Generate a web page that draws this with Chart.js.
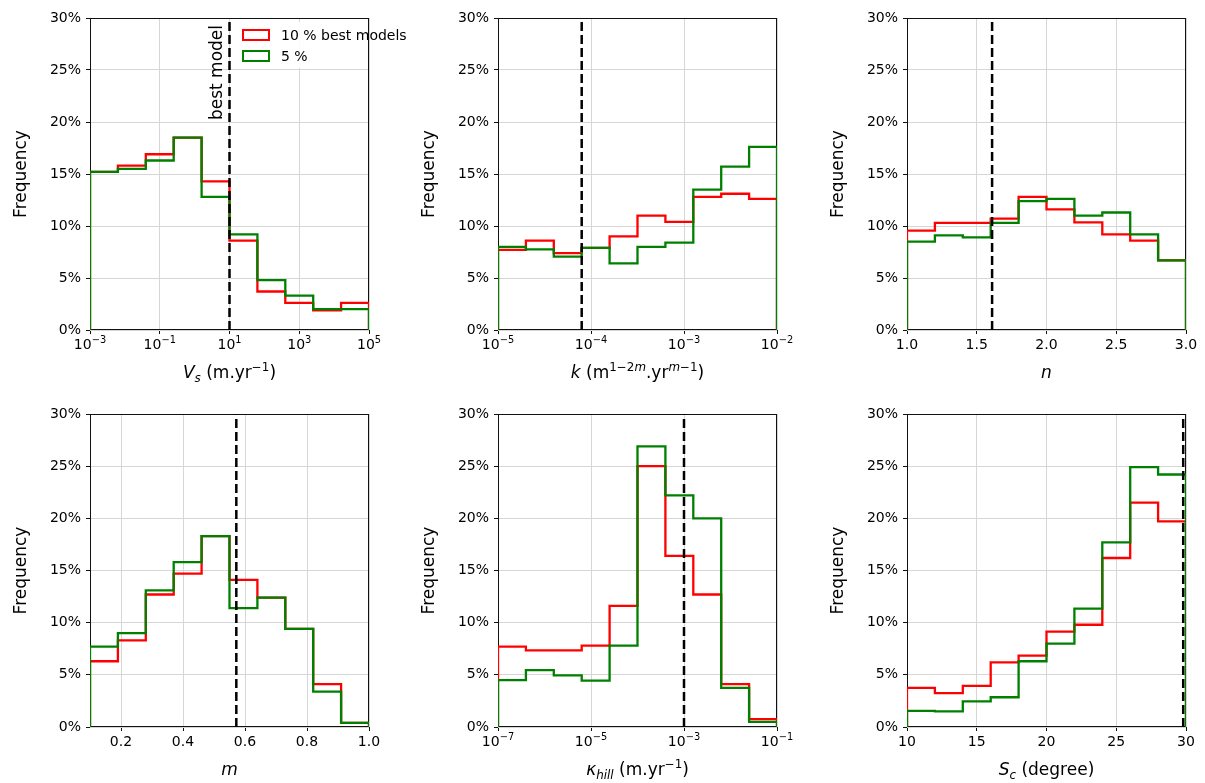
<!DOCTYPE html>
<html>
<head>
<meta charset="utf-8">
<script src="https://cdn.jsdelivr.net/npm/chart.js@4.4.0/dist/chart.umd.min.js"></script>
<style>
  body { margin: 0; background: #fff; }
  #fig { position: relative; width: 1205px; height: 783px; overflow: hidden; }
  canvas { position: absolute; }
</style>
</head>
<body>
<div id="fig">
  <canvas id="c-vs" width="408" height="392" style="left:0px;top:0px"></canvas>
  <canvas id="c-k" width="409" height="392" style="left:408px;top:0px"></canvas>
  <canvas id="c-n" width="388" height="392" style="left:817px;top:0px"></canvas>
  <canvas id="c-m" width="408" height="387" style="left:0px;top:396px"></canvas>
  <canvas id="c-kh" width="409" height="387" style="left:408px;top:396px"></canvas>
  <canvas id="c-sc" width="388" height="387" style="left:817px;top:396px"></canvas>
</div>
<script>
const FONT = '"DejaVu Sans", sans-serif';
const RED = '#ff0000';
const GREEN = '#008000';
const GRID = '#d6d6d6';

// frequency axis (percent), shared
const freqTicks = [0, 5, 10, 15, 20, 25, 30];

// V_s, log10(m/yr)
const vsEdges = [-3, -2.2, -1.4, -0.6, 0.2, 1.0, 1.8, 2.6, 3.4, 4.2, 5.0];
const vsRed = [15.2, 15.8, 16.9, 18.5, 14.3, 8.6, 3.7, 2.6, 1.9, 2.6];
const vsGreen = [15.2, 15.5, 16.3, 18.5, 12.8, 9.2, 4.8, 3.3, 2.0, 2.0];
const vsTicks = [-3, -1, 1, 3, 5];
const vsBest = 1.0;

// k, log10
const kEdges = [-5, -4.7, -4.4, -4.1, -3.8, -3.5, -3.2, -2.9, -2.6, -2.3, -2];
const kRed = [7.7, 8.6, 7.4, 7.9, 9.0, 11.0, 10.4, 12.8, 13.1, 12.6];
const kGreen = [8.0, 7.75, 7.05, 7.9, 6.4, 8.0, 8.4, 13.5, 15.7, 17.6];
const kTicks = [-5, -4, -3, -2];
const kBest = -4.1;

// n
const nEdges = [1.0, 1.2, 1.4, 1.6, 1.8, 2.0, 2.2, 2.4, 2.6, 2.8, 3.0];
const nRed = [9.55, 10.3, 10.3, 10.7, 12.8, 11.6, 10.35, 9.2, 8.6, 6.7];
const nGreen = [8.5, 9.1, 8.9, 10.3, 12.4, 12.6, 11.0, 11.3, 9.2, 6.7];
const nTicks = [1.0, 1.5, 2.0, 2.5, 3.0];
const nBest = 1.61;

// m
const mEdges = [0.1, 0.19, 0.28, 0.37, 0.46, 0.55, 0.64, 0.73, 0.82, 0.91, 1.0];
const mRed = [6.3, 8.3, 12.7, 14.7, 18.3, 14.1, 12.4, 9.4, 4.1, 0.4];
const mGreen = [7.7, 9.0, 13.1, 15.8, 18.3, 11.4, 12.4, 9.4, 3.4, 0.4];
const mTicks = [0.2, 0.4, 0.6, 0.8, 1.0];
const mBest = 0.572;

// kappa_hill, log10(m/yr)
const khEdges = [-7, -6.4, -5.8, -5.2, -4.6, -4, -3.4, -2.8, -2.2, -1.6, -1];
const khRed = [7.7, 7.35, 7.35, 7.8, 11.6, 25.0, 16.4, 12.7, 4.1, 0.75];
const khGreen = [4.5, 5.45, 4.95, 4.45, 7.8, 26.9, 22.2, 20.0, 3.75, 0.5];
const khTicks = [-7, -5, -3, -1];
const khBest = -3.0;

// S_c, degree
const scEdges = [10, 12, 14, 16, 18, 20, 22, 24, 26, 28, 30];
const scRed = [3.75, 3.25, 3.95, 6.2, 6.85, 9.15, 9.8, 16.2, 21.5, 19.7];
const scGreen = [1.55, 1.5, 2.45, 2.85, 6.3, 8.0, 11.35, 17.7, 24.9, 24.2];
const scTicks = [10, 15, 20, 25, 30];
const scBest = 29.8;

const fixed1 = v => v.toFixed(1);
const plain = v => String(v);
// log axes: tick value is the exponent, drawn as 10 with a raised exponent
const pow10Parts = v => [{ t: '10' }, { t: String(v).replace('-', '\u2212'), sup: true }];

function stepPoints(edges, values) {
  const pts = [{ x: edges[0], y: 0 }];
  values.forEach((v, i) => pts.push({ x: edges[i], y: v }));
  pts.push({ x: edges[edges.length - 1], y: 0 });
  return pts;
}

// text with italics, sub- and superscripts
function drawRich(ctx, parts, cx, cy, size) {
  const fontFor = p => (p.it ? 'italic ' : '') + ((p.sub || p.sup) ? size * 0.7 : size) + 'px ' + FONT;
  const widths = parts.map(p => { ctx.font = fontFor(p); return ctx.measureText(p.t).width; });
  let x = cx - widths.reduce((a, b) => a + b, 0) / 2;
  const base = cy + size * 0.36;
  ctx.textAlign = 'left';
  ctx.textBaseline = 'alphabetic';
  parts.forEach((p, i) => {
    ctx.font = fontFor(p);
    let y = base;
    if (p.sub) y += size * 0.22;
    if (p.sup) y -= size * 0.42;
    ctx.fillText(p.t, x, y);
    x += widths[i];
  });
}

const framePlugin = {
  id: 'frame',
  beforeDatasetsDraw(chart) {
    const { ctx, chartArea: a } = chart;
    ctx.save();
    ctx.strokeStyle = '#111';
    ctx.lineWidth = 1;
    ctx.strokeRect(a.left + 0.5, a.top + 0.5, a.right - a.left - 1, a.bottom - a.top - 1);
    ctx.restore();
  }
};

const xTextPlugin = {
  id: 'xText',
  afterDraw(chart, args, opts) {
    const { ctx, chartArea: a } = chart;
    const xs = chart.scales.x;
    ctx.save();
    ctx.fillStyle = '#000';
    if (opts.logTicks) {
      opts.logTicks.forEach(v => drawRich(ctx, pow10Parts(v), xs.getPixelForValue(v), a.bottom + 14, 14));
    }
    drawRich(ctx, opts.parts, (a.left + a.right) / 2, a.bottom + 42, 17);
    ctx.restore();
  }
};

const legendPlugin = {
  id: 'boxLegend',
  afterDraw(chart, args, opts) {
    if (!opts.show) return;
    const { ctx, chartArea: a } = chart;
    const x0 = a.left + 146, y0 = a.top + 4;
    ctx.save();
    ctx.fillStyle = 'rgba(255,255,255,0.9)';
    ctx.fillRect(x0, y0, 130, 46);
    const rows = [[RED, '10 % best models'], [GREEN, '5 %']];
    rows.forEach(([col, txt], i) => {
      const cy = y0 + 13 + i * 21;
      ctx.strokeStyle = col;
      ctx.lineWidth = 2;
      ctx.strokeRect(x0 + 7, cy - 5, 26, 10);
      ctx.fillStyle = '#000';
      ctx.font = '14px ' + FONT;
      ctx.textAlign = 'left';
      ctx.textBaseline = 'middle';
      ctx.fillText(txt, x0 + 45, cy + 1);
    });
    // best model label beside the dashed line
    const xs = chart.scales.x;
    ctx.translate(xs.getPixelForValue(opts.best) - 12, a.top + 7);
    ctx.rotate(-Math.PI / 2);
    ctx.font = '17px ' + FONT;
    ctx.textAlign = 'right';
    ctx.textBaseline = 'middle';
    ctx.fillText('best model', 0, 0);
    ctx.restore();
  }
};

function makePanel(id, p) {
  const canvas = document.getElementById(id);
  const plotH = p.row === 0 ? 312 : 313;
  const xAxisH = canvas.height - 18 - plotH;
  const padRight = canvas.width - 90 - 279;
  new Chart(canvas, {
    type: 'line',
    data: {
      datasets: [
        { label: 'best', data: [{ x: p.best, y: 0 }, { x: p.best, y: 30 }],
          borderColor: '#000', borderWidth: 2.5, borderDash: [9, 4] },
        { label: '5 %', data: stepPoints(p.edges, p.green),
          borderColor: GREEN, borderWidth: 2.3, stepped: 'before' },
        { label: '10 % best models', data: stepPoints(p.edges, p.red),
          borderColor: RED, borderWidth: 2.3, stepped: 'before' }
      ]
    },
    options: {
      responsive: false,
      animation: false,
      devicePixelRatio: 1,
      layout: { padding: { left: 0, top: 18, right: padRight, bottom: 0 } },
      elements: { point: { radius: 0 }, line: { tension: 0, fill: false } },
      plugins: {
        legend: { display: false },
        tooltip: { enabled: false },
        xText: { parts: p.title, logTicks: p.log ? p.ticks : null },
        boxLegend: { show: !!p.legend, best: p.best }
      },
      scales: {
        x: {
          type: 'linear', min: p.edges[0], max: p.edges[p.edges.length - 1],
          afterBuildTicks: s => { s.ticks = p.ticks.map(v => ({ value: v })); },
          afterFit: s => { s.height = xAxisH; },
          ticks: { display: !p.log, callback: p.fmt, color: '#000', font: { family: FONT, size: 14 },
                   maxRotation: 0, autoSkip: false, padding: 3 },
          grid: { color: GRID, lineWidth: 1, tickColor: '#111', tickLength: 4 },
          border: { display: false }
        },
        y: {
          min: 0, max: 30,
          afterBuildTicks: s => { s.ticks = freqTicks.map(v => ({ value: v })); },
          afterFit: s => { s.width = 90; },
          ticks: { callback: v => v + '%', color: '#000', font: { family: FONT, size: 14 },
                   autoSkip: false, padding: 5 },
          grid: { color: GRID, lineWidth: 1, tickColor: '#111', tickLength: 4 },
          border: { display: false },
          title: { display: true, text: 'Frequency', color: '#000',
                   font: { family: FONT, size: 17 }, padding: { top: 11, bottom: 0 } }
        }
      }
    },
    plugins: [framePlugin, xTextPlugin, legendPlugin]
  });
}

makePanel('c-vs', { row: 0, edges: vsEdges, red: vsRed, green: vsGreen, ticks: vsTicks, log: true, best: vsBest, legend: true,
  title: [{ t: 'V', it: true }, { t: 's', it: true, sub: true }, { t: ' (m.yr' }, { t: '\u22121', sup: true }, { t: ')' }] });
makePanel('c-k', { row: 0, edges: kEdges, red: kRed, green: kGreen, ticks: kTicks, log: true, best: kBest,
  title: [{ t: 'k', it: true }, { t: ' (m' }, { t: '1\u22122', sup: true }, { t: 'm', sup: true, it: true }, { t: '.yr' },
          { t: 'm', sup: true, it: true }, { t: '\u22121', sup: true }, { t: ')' }] });
makePanel('c-n', { row: 0, edges: nEdges, red: nRed, green: nGreen, ticks: nTicks, fmt: fixed1, best: nBest,
  title: [{ t: 'n', it: true }] });
makePanel('c-m', { row: 1, edges: mEdges, red: mRed, green: mGreen, ticks: mTicks, fmt: fixed1, best: mBest,
  title: [{ t: 'm', it: true }] });
makePanel('c-kh', { row: 1, edges: khEdges, red: khRed, green: khGreen, ticks: khTicks, log: true, best: khBest,
  title: [{ t: '\u03ba', it: true }, { t: 'hill', it: true, sub: true }, { t: ' (m.yr' }, { t: '\u22121', sup: true }, { t: ')' }] });
makePanel('c-sc', { row: 1, edges: scEdges, red: scRed, green: scGreen, ticks: scTicks, fmt: plain, best: scBest,
  title: [{ t: 'S', it: true }, { t: 'c', it: true, sub: true }, { t: ' (degree)' }] });
</script>
</body>
</html>
